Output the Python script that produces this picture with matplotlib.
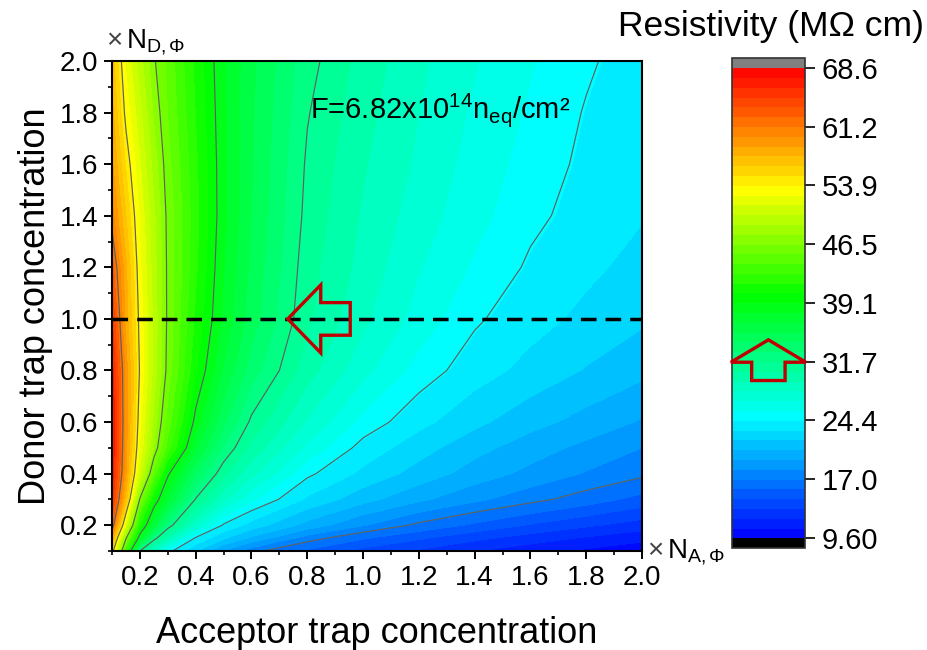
import matplotlib; matplotlib.use("Agg")
import matplotlib.pyplot as plt
import matplotlib.transforms as mtransforms
from matplotlib.colors import LinearSegmentedColormap
from matplotlib.patches import Polygon
from matplotlib.ticker import MultipleLocator, FormatStrFormatter
import numpy as np

plt.rcParams["font.family"] = ["Liberation Sans", "DejaVu Sans"]
plt.rcParams["mathtext.fontset"] = "custom"
plt.rcParams["mathtext.rm"] = "Liberation Sans"
plt.rcParams["mathtext.it"] = "Liberation Sans:italic"
plt.rcParams["mathtext.bf"] = "Liberation Sans:bold"

# trap concentrations, in units of N_A,Phi (x) and N_D,Phi (y)
NA = [0.1, 0.15, 0.2, 0.25, 0.3, 0.4, 0.5, 0.6, 0.8, 1.0, 1.2, 1.4, 1.6, 1.8, 2.0]
ND = [0.1, 0.15, 0.2, 0.3, 0.4, 0.5, 0.6, 0.8, 1.0, 1.2, 1.4, 1.6, 1.8, 2.0]
# resistivity (MOhm cm), one row per ND value
RHO = [
    [55.0, 42.8, 31.7, 28.0, 24.9, 22.0, 19.3, 17.4, 15.5, 14.1, 13.1, 12.1, 11.3, 10.6, 10.0],
    [58.5, 46.7, 38.0, 32.4, 29.3, 24.2, 22.1, 20.4, 17.6, 15.9, 14.7, 13.6, 12.7, 11.9, 11.2],
    [62.5, 51.4, 41.4, 36.4, 32.5, 28.0, 24.2, 22.6, 20.2, 18.3, 16.7, 15.5, 14.4, 13.5, 12.7],
    [65.5, 56.9, 46.3, 40.3, 36.9, 31.6, 28.4, 25.8, 22.9, 21.1, 19.7, 18.5, 17.4, 16.4, 15.3],
    [67.0, 58.8, 50.9, 44.7, 39.4, 34.3, 30.8, 28.4, 24.7, 22.8, 21.4, 20.1, 19.1, 18.1, 17.3],
    [67.5, 59.2, 52.4, 47.6, 43.5, 36.9, 32.8, 30.1, 26.5, 23.9, 22.4, 21.1, 20.0, 19.1, 18.2],
    [67.8, 59.4, 53.0, 48.5, 44.7, 38.6, 34.5, 31.4, 27.9, 25.2, 23.5, 22.2, 21.1, 20.2, 19.3],
    [66.8, 59.4, 53.7, 49.7, 46.0, 40.5, 36.5, 33.6, 29.8, 27.2, 25.1, 23.7, 22.7, 21.8, 21.0],
    [65.0, 58.2, 53.4, 49.8, 46.2, 41.3, 37.6, 34.8, 30.7, 28.3, 26.3, 24.6, 23.6, 22.8, 22.1],
    [63.0, 57.8, 52.9, 49.5, 46.2, 41.8, 37.9, 35.1, 31.0, 28.8, 26.9, 25.4, 24.2, 23.4, 22.7],
    [60.5, 56.3, 52.4, 49.2, 46.1, 42.0, 38.2, 35.4, 31.3, 29.1, 27.4, 26.0, 24.7, 23.9, 23.2],
    [59.0, 54.9, 51.5, 48.4, 45.7, 41.8, 38.2, 35.5, 31.5, 29.4, 27.8, 26.3, 25.1, 24.1, 23.45],
    [58.0, 53.4, 50.5, 47.5, 45.2, 41.5, 38.1, 35.6, 31.8, 29.7, 28.05, 26.6, 25.4, 24.3, 23.6],
    [57.0, 52.4, 49.5, 46.7, 44.9, 41.2, 38.0, 35.7, 32.2, 30.0, 28.3, 26.9, 25.7, 24.6, 23.7],
]
CB_TICKS = [9.60, 17.0, 24.4, 31.7, 39.1, 46.5, 53.9, 61.2, 68.6]
CB_LABELS = ["9.60", "17.0", "24.4", "31.7", "39.1", "46.5", "53.9", "61.2", "68.6"]
LINE_LEVELS = [17.0, 24.4, 31.7, 39.1, 46.5, 53.9, 61.2]
VMIN, VMAX, NBANDS = 9.6, 68.6, 48
MARK_ND = 1.0      # dashed line
MARK_NA = 0.73     # where the 31.7 contour meets it
MARK_RHO = 31.7

# hollow arrows, pixel offsets from the anchor point
LEFT_ARROW = [(0, 0), (33, 34), (33, 16.3), (62.5, 16.3), (62.5, -16.3), (33, -16.3), (33, -34)]
UP_ARROW = [(0, 22.4), (37.5, 0), (16.7, 0), (16.7, -18.3), (-16.7, -18.3), (-16.7, 0), (-37.5, 0)]
ARROW_RED = "#c00000"

cmap = LinearSegmentedColormap.from_list("origin_rainbow", [
    (0.0, (0, 0, 1)), (0.26, (0, 1, 1)), (0.515, (0, 1, 0)),
    (0.742, (1, 1, 0)), (1.0, (1, 0, 0))])
cmap.set_over("#808080"); cmap.set_under("#000000")

fig = plt.figure(figsize=(9.28, 6.5), dpi=100)
ax = fig.add_axes([0.1207, 0.1523, 0.5711, 0.7538])
cax = fig.add_axes([0.7885, 0.1565, 0.0790, 0.7538])

X, Y = np.meshgrid(NA, ND)
Z = np.array(RHO)
levels = np.linspace(VMIN, VMAX, NBANDS + 1)
cf = ax.contourf(X, Y, Z, levels=levels, cmap=cmap, vmin=VMIN, vmax=VMAX, extend="both")
ax.contour(X, Y, Z, levels=LINE_LEVELS, colors="#606060", linewidths=0.85)
ax.axhline(MARK_ND, color="black", lw=2.5, dashes=(4.5, 2.6))

ax.set_xlim(0.1, 2.0); ax.set_ylim(0.1, 2.0)
for a in (ax.xaxis, ax.yaxis):
    a.set_major_locator(MultipleLocator(0.2))
    a.set_minor_locator(MultipleLocator(0.1))
    a.set_major_formatter(FormatStrFormatter("%.1f"))
ax.tick_params(which="major", direction="out", length=6, width=1.4, labelsize=20, pad=4)
ax.tick_params(which="minor", direction="out", length=3, width=1.2)
for s in ax.spines.values(): s.set_linewidth(1.5)
ax.set_xlabel("Acceptor trap concentration", fontsize=26, labelpad=18)
ax.set_ylabel("Donor trap concentration", fontsize=26, labelpad=5)

ax.text(-0.011, 1.027, "×", transform=ax.transAxes, fontsize=20, va="baseline", color="#444444")
ax.text(0.027, 1.027, r"N$_{\mathrm{D,\Phi}}$", transform=ax.transAxes, fontsize=20, va="baseline")
ax.text(1.009, -0.014, "×", transform=ax.transAxes, fontsize=20, va="baseline", color="#444444")
ax.text(1.047, -0.014, r"N$_{\mathrm{A,\Phi}}$", transform=ax.transAxes, fontsize=20, va="baseline")
ax.text(0.3736, 0.8837, r"F=6.82x10$^{14}$n$_{\mathrm{eq}}$/cm²", transform=ax.transAxes,
        fontsize=21, va="baseline")

cbar = fig.colorbar(cf, cax=cax, extendrect=True, extendfrac=10 / 471)
cbar.set_ticks(CB_TICKS); cbar.set_ticklabels(CB_LABELS)
cbar.ax.tick_params(labelsize=21, length=7, width=1.2, direction="out", pad=5)
cbar.outline.set_linewidth(1.2); cbar.outline.set_edgecolor("#333333")
fig.text(0.831, 0.9446, "Resistivity (MΩ cm)", ha="center", va="baseline", fontsize=25.5)

px = mtransforms.Affine2D().scale(1 / fig.dpi) + fig.dpi_scale_trans
t1 = px + mtransforms.ScaledTranslation(MARK_NA, MARK_ND, ax.transData)
fig.add_artist(Polygon(LEFT_ARROW, closed=True, fill=False, edgecolor=ARROW_RED, lw=2.4,
                       joinstyle="miter", transform=t1, zorder=5))
cb_point = mtransforms.blended_transform_factory(cax.transAxes, cax.transData)
t2 = px + mtransforms.ScaledTranslation(0.5, MARK_RHO, cb_point)
fig.add_artist(Polygon(UP_ARROW, closed=True, fill=False, edgecolor=ARROW_RED, lw=2.4,
                       joinstyle="miter", transform=t2, zorder=5))

fig.savefig("out.png", dpi=100)
